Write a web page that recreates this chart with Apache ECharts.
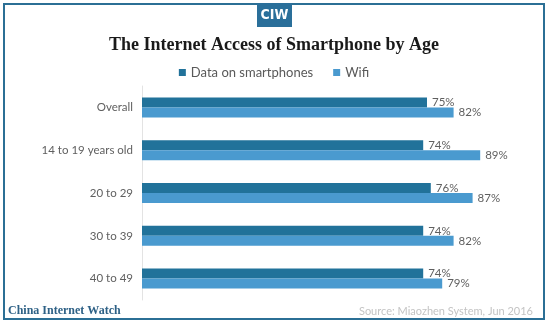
<!DOCTYPE html>
<html>
<head>
<meta charset="utf-8">
<script src="https://cdn.jsdelivr.net/npm/echarts@6/dist/echarts.min.js"></script>
<style>html,body{margin:0;padding:0;background:#fff;}#c{width:548px;height:324px;}</style>
</head>
<body>
<div id="c"></div>
<script>
const categories = ['Overall', '14 to 19 years old', '20 to 29', '30 to 39', '40 to 49'];
const dataSmartphones = [75, 74, 76, 74, 74];
const wifi = [82, 89, 87, 82, 79];
const seriesNames = ['Data on smartphones', 'Wifi'];

const chart = echarts.init(document.getElementById('c'));
const labelFont = 'Lato, "Open Sans", sans-serif';
chart.setOption({
  backgroundColor: '#ffffff',
  animation: false,
  title: {
    text: 'The Internet Access of Smartphone by Age',
    left: 'center',
    top: 31,
    textStyle: { fontFamily: '"Liberation Serif", serif', fontWeight: 'bold', fontSize: 18, color: '#1a1a1a' }
  },
  legend: {
    data: seriesNames,
    top: 61,
    left: 'center',
    itemWidth: 7,
    itemHeight: 7,
    itemGap: 20,
    icon: 'rect',
    textStyle: { fontFamily: labelFont, fontSize: 13, color: '#595959' }
  },
  grid: { left: 142, right: 26, top: 86, bottom: 24, containLabel: false },
  xAxis: {
    type: 'value', min: 0, max: 100, show: false
  },
  yAxis: {
    type: 'category',
    data: categories,
    inverse: true,
    axisLine: { show: true, lineStyle: { color: '#e3e3e3', width: 1 } },
    axisTick: { show: false },
    axisLabel: { margin: 9, fontFamily: labelFont, fontSize: 11.5, color: '#5f5f5f' }
  },
  series: [
    {
      name: seriesNames[0], type: 'bar', data: dataSmartphones,
      barWidth: 10, barGap: '0%',
      itemStyle: { color: '#21729a' },
      label: { show: true, position: 'right', distance: 5, formatter: '{c}%', fontFamily: labelFont, fontSize: 11.5, color: '#5f5f5f' }
    },
    {
      name: seriesNames[1], type: 'bar', data: wifi,
      barWidth: 10, barGap: '0%',
      itemStyle: { color: '#4a9acf' },
      label: { show: true, position: 'right', distance: 5, formatter: '{c}%', fontFamily: labelFont, fontSize: 11.5, color: '#5f5f5f' }
    }
  ],
  graphic: [
    { type: 'rect', shape: { x: 4, y: 4, width: 540, height: 315 }, style: { fill: 'none', stroke: '#2b6f95', lineWidth: 2 }, z: 10 },
    { type: 'rect', shape: { x: 257, y: 3, width: 35, height: 24 }, style: { fill: '#2a6f9a' }, z: 11 },
    { type: 'text', x: 274.5, y: 15, style: { text: 'CIW', fill: '#ffffff', font: 'bold 14px "Liberation Sans Narrow", "DejaVu Sans Condensed", sans-serif', textAlign: 'center', textVerticalAlign: 'middle' }, z: 12 },
    { type: 'text', left: 8, top: 305, style: { text: 'China Internet Watch', fill: '#2e6186', font: 'bold 12px "Liberation Serif", serif' }, z: 12 },
    { type: 'text', right: 15, top: 306, style: { text: 'Source: Miaozhen System, Jun 2016', fill: '#c4c4c4', font: '11px Lato, sans-serif' }, z: 12 }
  ]
});
</script>
</body>
</html>
